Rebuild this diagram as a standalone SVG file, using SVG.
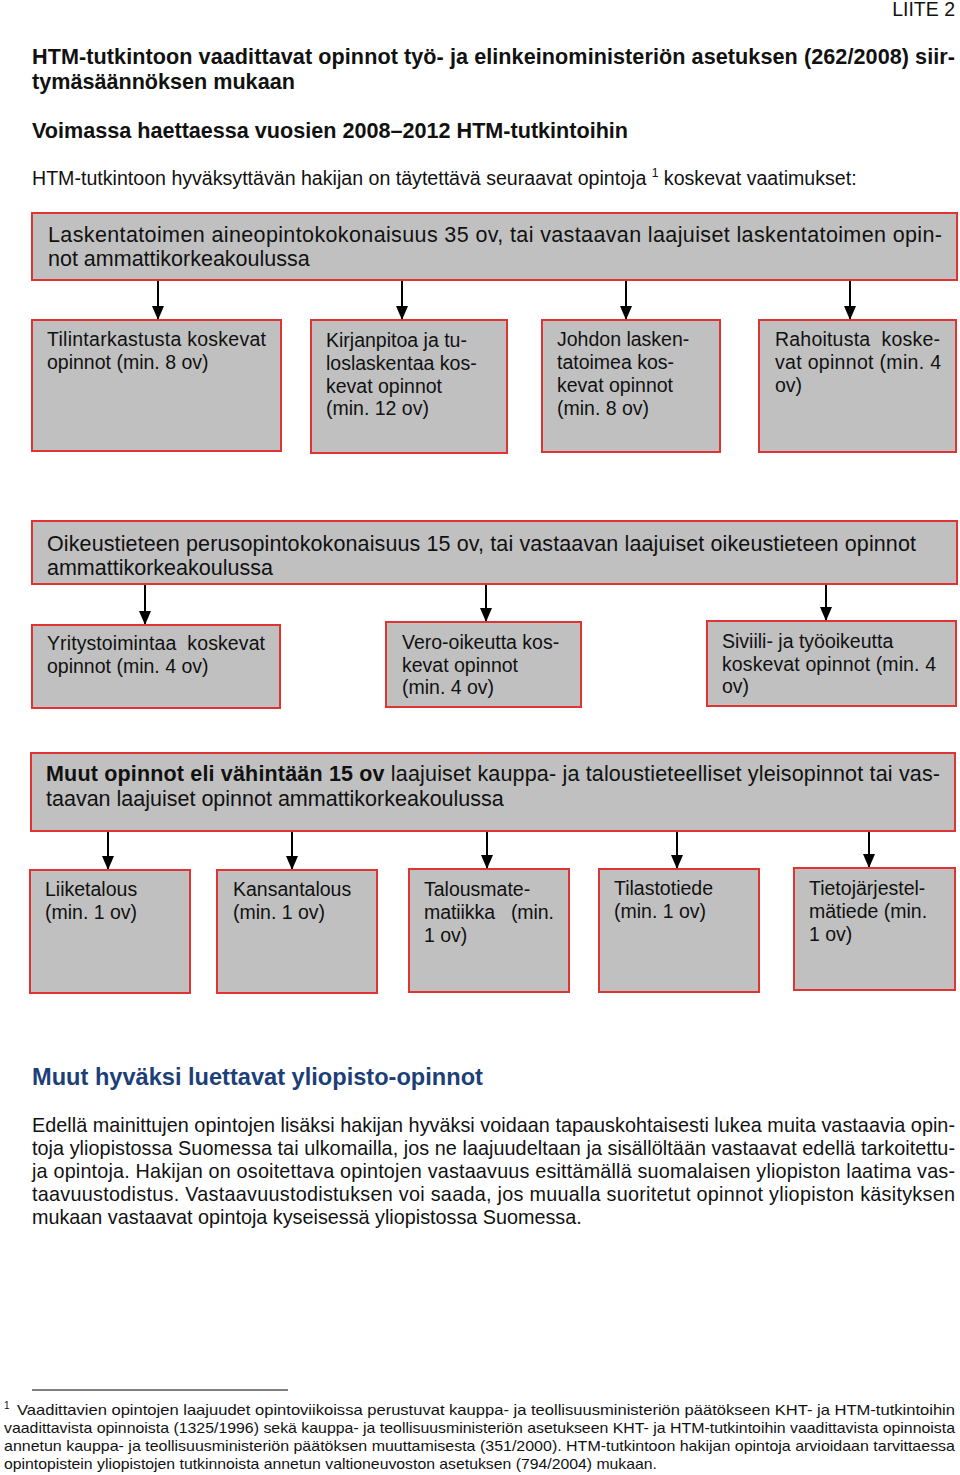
<svg xmlns="http://www.w3.org/2000/svg" width="960" height="1475" viewBox="0 0 960 1475">
<style>
text{font-family:"Liberation Sans",Arial,sans-serif;fill:#111}
.b{font-weight:bold}
.t{font-size:21.6px}
.big{font-size:21.5px}
.s{font-size:19.5px}
.p{font-size:19.8px}
.fn{font-size:15px}
.pre{white-space:pre}
.box{fill:#c0c0c0;stroke:#e03434;stroke-width:2}
.con line{stroke:#000;stroke-width:2}
.h2{font-size:23.6px;font-weight:bold;fill:#1d3f78}
</style>
<defs>
<marker id="ah" markerUnits="userSpaceOnUse" markerWidth="14" markerHeight="14" viewBox="0 0 14 14" refX="14" refY="7" orient="auto">
<path d="M0,1 L14,7 L0,13 Z" fill="#000"/>
</marker>
</defs>
<rect width="960" height="1475" fill="#fff"/>

<g id="header">
<text x="955" y="16" class="s" text-anchor="end">LIITE 2</text>
<text x="32" y="64" class="b t" textLength="923" lengthAdjust="spacing">HTM-tutkintoon vaadittavat opinnot työ- ja elinkeinoministeriön asetuksen (262/2008) siir-</text>
<text x="32" y="89" class="b t">tymäsäännöksen mukaan</text>
<text x="32" y="138" class="b t">Voimassa haettaessa vuosien 2008–2012 HTM-tutkintoihin</text>
<text x="32" y="185" style="font-size:19.6px">HTM-tutkintoon hyväksyttävän hakijan on täytettävä seuraavat opintoja <tspan font-size="12" dy="-8">1</tspan><tspan dy="8"> koskevat vaatimukset:</tspan></text>
</g>

<g class="con" id="connectors">
<line x1="158" y1="281" x2="158" y2="320" marker-end="url(#ah)"/>
<line x1="402" y1="281" x2="402" y2="320" marker-end="url(#ah)"/>
<line x1="626" y1="281" x2="626" y2="320" marker-end="url(#ah)"/>
<line x1="850" y1="281" x2="850" y2="320" marker-end="url(#ah)"/>
<line x1="145" y1="585" x2="145" y2="625" marker-end="url(#ah)"/>
<line x1="486" y1="585" x2="486" y2="622" marker-end="url(#ah)"/>
<line x1="826" y1="585" x2="826" y2="621" marker-end="url(#ah)"/>
<line x1="108" y1="832" x2="108" y2="870" marker-end="url(#ah)"/>
<line x1="292" y1="832" x2="292" y2="870" marker-end="url(#ah)"/>
<line x1="487" y1="832" x2="487" y2="869" marker-end="url(#ah)"/>
<line x1="677" y1="832" x2="677" y2="869" marker-end="url(#ah)"/>
<line x1="869" y1="832" x2="869" y2="868" marker-end="url(#ah)"/>
</g>

<g id="laskentatoimi">
<rect class="box" x="32" y="213" width="925" height="67"/>
<text x="48" y="242" class="big" textLength="894" lengthAdjust="spacing">Laskentatoimen aineopintokokonaisuus 35 ov, tai vastaavan laajuiset laskentatoimen opin-</text>
<text x="48" y="266" class="big">not ammattikorkeakoulussa</text>
</g>
<g id="tilintarkastus">
<rect class="box" x="32" y="320" width="249" height="131"/>
<text x="47" y="346" class="s" textLength="219" lengthAdjust="spacing">Tilintarkastusta koskevat</text>
<text x="47" y="369" class="s">opinnot (min. 8 ov)</text>
</g>
<g id="kirjanpito">
<rect class="box" x="311" y="320" width="196" height="133"/>
<text x="326" y="347" class="s">Kirjanpitoa ja tu-</text>
<text x="326" y="370" class="s">loslaskentaa kos-</text>
<text x="326" y="393" class="s">kevat opinnot</text>
<text x="326" y="415" class="s">(min. 12 ov)</text>
</g>
<g id="johdon">
<rect class="box" x="542" y="320" width="178" height="132"/>
<text x="557" y="346" class="s">Johdon lasken-</text>
<text x="557" y="369" class="s">tatoimea kos-</text>
<text x="557" y="392" class="s">kevat opinnot</text>
<text x="557" y="415" class="s">(min. 8 ov)</text>
</g>
<g id="rahoitus">
<rect class="box" x="759" y="320" width="197" height="132"/>
<text x="775" y="346" class="s pre" textLength="165" lengthAdjust="spacing">Rahoitusta  koske-</text>
<text x="775" y="369" class="s" textLength="166" lengthAdjust="spacing">vat opinnot (min. 4</text>
<text x="775" y="392" class="s">ov)</text>
</g>

<g id="oikeustiede">
<rect class="box" x="32" y="521" width="925" height="63"/>
<text x="47" y="551" class="big" textLength="869" lengthAdjust="spacing">Oikeustieteen perusopintokokonaisuus 15 ov, tai vastaavan laajuiset oikeustieteen opinnot</text>
<text x="47" y="575" class="big">ammattikorkeakoulussa</text>
</g>
<g id="yritystoiminta">
<rect class="box" x="32" y="625" width="248" height="83"/>
<text x="47" y="650" class="s pre" textLength="218" lengthAdjust="spacing">Yritystoimintaa  koskevat</text>
<text x="47" y="673" class="s">opinnot (min. 4 ov)</text>
</g>
<g id="verooikeus">
<rect class="box" x="386" y="622" width="195" height="85"/>
<text x="402" y="649" class="s">Vero-oikeutta kos-</text>
<text x="402" y="672" class="s">kevat opinnot</text>
<text x="402" y="694" class="s">(min. 4 ov)</text>
</g>
<g id="siviilioikeus">
<rect class="box" x="707" y="621" width="249" height="85"/>
<text x="722" y="648" class="s">Siviili- ja työoikeutta</text>
<text x="722" y="671" class="s" textLength="214" lengthAdjust="spacing">koskevat opinnot (min. 4</text>
<text x="722" y="693" class="s">ov)</text>
</g>

<g id="muut">
<rect class="box" x="31" y="753" width="924" height="78"/>
<text x="46" y="781" class="big" textLength="894" lengthAdjust="spacing"><tspan class="b">Muut opinnot eli vähintään 15 ov</tspan> laajuiset kauppa- ja taloustieteelliset yleisopinnot tai vas-</text>
<text x="46" y="806" class="big">taavan laajuiset opinnot ammattikorkeakoulussa</text>
</g>
<g id="liiketalous">
<rect class="box" x="30" y="870" width="160" height="123"/>
<text x="45" y="896" class="s">Liiketalous</text>
<text x="45" y="919" class="s">(min. 1 ov)</text>
</g>
<g id="kansantalous">
<rect class="box" x="217" y="870" width="160" height="123"/>
<text x="233" y="896" class="s">Kansantalous</text>
<text x="233" y="919" class="s">(min. 1 ov)</text>
</g>
<g id="talousmatematiikka">
<rect class="box" x="409" y="869" width="160" height="123"/>
<text x="424" y="896" class="s">Talousmate-</text>
<text x="424" y="919" class="s pre" textLength="130" lengthAdjust="spacing">matiikka   (min.</text>
<text x="424" y="942" class="s">1 ov)</text>
</g>
<g id="tilastotiede">
<rect class="box" x="599" y="869" width="160" height="123"/>
<text x="614" y="895" class="s">Tilastotiede</text>
<text x="614" y="918" class="s">(min. 1 ov)</text>
</g>
<g id="tietojarjestelmatiede">
<rect class="box" x="794" y="868" width="161" height="122"/>
<text x="809" y="895" class="s">Tietojärjestel-</text>
<text x="809" y="918" class="s">mätiede (min.</text>
<text x="809" y="941" class="s">1 ov)</text>
</g>

<g id="muut-hyvaksi">
<text x="32" y="1085" class="h2">Muut hyväksi luettavat yliopisto-opinnot</text>
<text x="32" y="1132" class="p" textLength="923" lengthAdjust="spacing">Edellä mainittujen opintojen lisäksi hakijan hyväksi voidaan tapauskohtaisesti lukea muita vastaavia opin-</text>
<text x="32" y="1155" class="p" textLength="923" lengthAdjust="spacing">toja yliopistossa Suomessa tai ulkomailla, jos ne laajuudeltaan ja sisällöltään vastaavat edellä tarkoitettu-</text>
<text x="32" y="1178" class="p" textLength="923" lengthAdjust="spacing">ja opintoja. Hakijan on osoitettava opintojen vastaavuus esittämällä suomalaisen yliopiston laatima vas-</text>
<text x="32" y="1201" class="p" textLength="923" lengthAdjust="spacing">taavuustodistus. Vastaavuustodistuksen voi saada, jos muualla suoritetut opinnot yliopiston käsityksen</text>
<text x="32" y="1224" class="p">mukaan vastaavat opintoja kyseisessä yliopistossa Suomessa.</text>
</g>

<g id="footnote">
<line x1="32" y1="1390" x2="288" y2="1390" stroke="#000" stroke-width="1"/>
<text x="4" y="1409" font-size="10">1</text>
<text x="17" y="1415" class="fn" textLength="938" lengthAdjust="spacingAndGlyphs">Vaadittavien opintojen laajuudet opintoviikoissa perustuvat kauppa- ja teollisuusministeriön päätökseen KHT- ja HTM-tutkintoihin</text>
<text x="4" y="1433" class="fn" textLength="951" lengthAdjust="spacingAndGlyphs">vaadittavista opinnoista (1325/1996) sekä kauppa- ja teollisuusministeriön asetukseen KHT- ja HTM-tutkintoihin vaadittavista opinnoista</text>
<text x="4" y="1451" class="fn" textLength="951" lengthAdjust="spacingAndGlyphs">annetun kauppa- ja teollisuusministeriön päätöksen muuttamisesta (351/2000). HTM-tutkintoon hakijan opintoja arvioidaan tarvittaessa</text>
<text x="4" y="1469" class="fn" textLength="653" lengthAdjust="spacingAndGlyphs">opintopistein yliopistojen tutkinnoista annetun valtioneuvoston asetuksen (794/2004) mukaan.</text>
</g>
</svg>
